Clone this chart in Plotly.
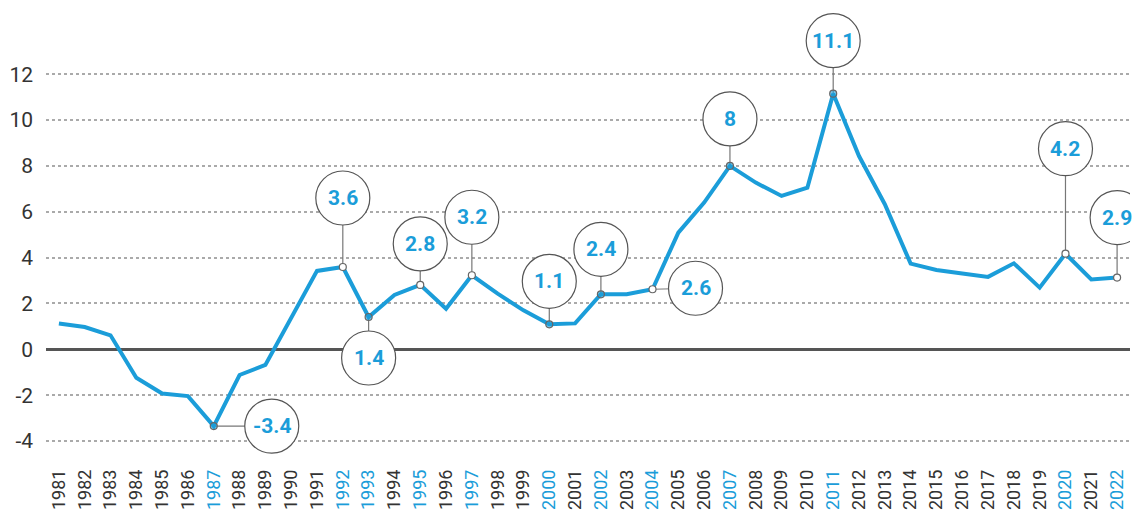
import plotly.graph_objects as go

years = list(range(1981, 2023))
values = [1.13, 0.97, 0.61, -1.24, -1.93, -2.04, -3.35, -1.12, -0.68, 1.40,
          3.42, 3.59, 1.41, 2.37, 2.81, 1.77, 3.23, 2.43, 1.70, 1.09,
          1.13, 2.40, 2.40, 2.62, 5.09, 6.40, 8.00, 7.27, 6.69, 7.05,
          11.15, 8.43, 6.33, 3.74, 3.46, 3.31, 3.16, 3.75, 2.69, 4.17,
          3.05, 3.13]

y_ticks = [-4, -2, 0, 2, 4, 6, 8, 10, 12]
y_ticktext = ["-4", "-2", "0", "2", "4", "6", "8", "10", "12"]

hl_years = [1987, 1992, 1993, 1995, 1997, 2000, 2002, 2004, 2007, 2011, 2020, 2022]
hl_labels = ["-3.4", "3.6", "1.4", "2.8", "3.2", "1.1", "2.4", "2.6", "8", "11.1", "4.2", "2.9"]
# callout circle offsets in pixels (dx right, dy up) relative to the point
hl_dx = [58, 0, 0, 0, 0, 0, 0, 43, 0, 0, 0, 0]
hl_dy = [0, 69, -41, 41, 58, 43, 45, 1, 47, 53, 105, 60]
hl_white = [False, True, False, True, True, False, False, True, False, False, True, True]

BLUE = "#1b9dd9"
GRAY_TXT = "#333333"
R = 27

ticktext = [f'<span style="color:{BLUE}">{y}</span>' if y in hl_years else str(y) for y in years]

fig = go.Figure()
fig.add_trace(go.Scatter(x=years, y=values, mode="lines",
                         line=dict(color=BLUE, width=4), hoverinfo="skip"))

hl_vals = [values[years.index(y)] for y in hl_years]
fig.add_trace(go.Scatter(
    x=hl_years, y=hl_vals, mode="markers",
    marker=dict(size=7, color=["white" if w else "rgba(27,157,217,0.6)" for w in hl_white],
                line=dict(color="#666666", width=1.2)),
    hoverinfo="skip"))

shapes = []
annotations = []
for yr, v, lab, dx, dy in zip(hl_years, hl_vals, hl_labels, hl_dx, hl_dy):
    shapes.append(dict(type="line", xref="x", yref="y", xsizemode="pixel", ysizemode="pixel",
                       xanchor=yr, yanchor=v, x0=0, y0=0, x1=dx, y1=dy,
                       line=dict(color="#777777", width=1.2), layer="between"))
    shapes.append(dict(type="circle", xref="x", yref="y", xsizemode="pixel", ysizemode="pixel",
                       xanchor=yr, yanchor=v, x0=dx - R, x1=dx + R, y0=dy - R, y1=dy + R,
                       fillcolor="white", line=dict(color="#555555", width=1.2), layer="above"))
    annotations.append(dict(x=yr, y=v, xref="x", yref="y", text=f"<b>{lab}</b>",
                            showarrow=False, xshift=dx, yshift=dy,
                            font=dict(family="Roboto", size=21, color=BLUE)))

fig.update_layout(
    width=1137, height=513,
    margin=dict(l=46, r=7, t=10, b=58),
    paper_bgcolor="white", plot_bgcolor="white",
    showlegend=False,
    shapes=shapes, annotations=annotations,
    font=dict(family="Roboto", color=GRAY_TXT),
)
fig.update_xaxes(range=[1980.5, 2022.5], tickmode="array", tickvals=years, ticktext=ticktext,
                 tickangle=-90, showgrid=False, zeroline=False, showline=False,
                 ticks="", ticklabelstandoff=10, automargin=False,
                 tickfont=dict(family="Roboto", size=18, color=GRAY_TXT))
fig.update_yaxes(range=[-4.61, 14.8], tickmode="array", tickvals=y_ticks, ticktext=y_ticktext,
                 showgrid=True, gridcolor="#aaaaaa", griddash="dot", gridwidth=1.5,
                 zeroline=True, zerolinecolor="#555555", zerolinewidth=3,
                 showline=False, ticks="", ticklabelstandoff=12, automargin=False,
                 tickfont=dict(family="Roboto", size=21, color=GRAY_TXT))

fig.write_html("out.html", config={"displayModeBar": False},
               post_script="document.body.style.margin='0';document.body.style.overflow='hidden';"
                           "document.documentElement.style.overflow='hidden';")
